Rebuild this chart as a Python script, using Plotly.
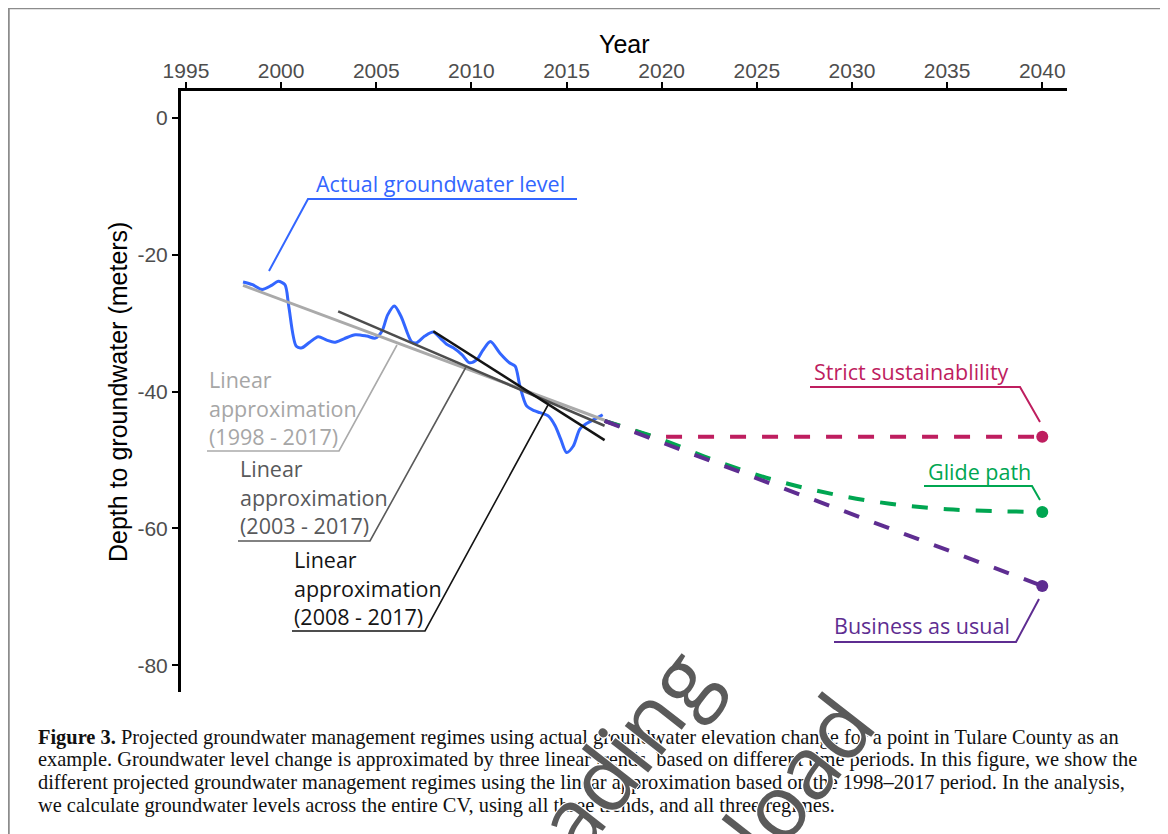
import plotly.graph_objects as go

# ---------------- data ----------------
actual_years = [1998.0, 1998.5, 1999.0, 1999.5, 1999.85, 2000.2, 2000.4, 2000.8, 2001.1, 2001.5,
                2001.95, 2002.4, 2002.8, 2003.3, 2003.9, 2004.5, 2004.95, 2005.3, 2005.6, 2005.95,
                2006.3, 2006.85, 2007.1, 2007.55, 2008.0, 2008.4, 2008.7, 2009.05, 2009.5, 2009.9,
                2010.3, 2010.6, 2011.0, 2011.5, 2012.0, 2012.3, 2012.55, 2012.9, 2013.3, 2013.6,
                2014.05, 2014.4, 2014.7, 2015.0, 2015.35, 2015.7, 2016.1, 2016.5, 2016.9]
actual_depth = [-24.0, -24.4, -25.1, -24.5, -23.9, -24.4, -27.5, -33.4, -33.6, -32.8,
                -32.0, -32.5, -32.8, -32.3, -31.7, -31.9, -32.2, -31.2, -28.8, -27.5,
                -29.0, -32.7, -32.9, -31.9, -31.3, -32.3, -33.1, -33.6, -34.6, -35.8,
                -35.3, -34.0, -32.7, -34.4, -35.8, -36.3, -39.2, -42.1, -42.8, -43.1,
                -43.6, -45.0, -47.0, -48.9, -48.0, -45.5, -44.6, -44.0, -43.4]

trend_1998_years = [1998, 2017]
trend_1998_depth = [-24.5, -44.2]
trend_2003_years = [2003, 2017]
trend_2003_depth = [-28.3, -45.0]
trend_2008_years = [2008, 2017]
trend_2008_depth = [-31.2, -47.1]

strict_years = [2017, 2019.5, 2040]
strict_depth = [-44.3, -46.6, -46.6]
glide_years = [2017, 2020, 2023, 2026, 2029, 2032, 2035, 2038, 2040]
glide_depth = [-44.3, -47.0, -50.3, -53.0, -55.0, -56.4, -57.2, -57.5, -57.6]
bau_years = [2017, 2040]
bau_depth = [-44.3, -68.4]

x_ticks = [1995, 2000, 2005, 2010, 2015, 2020, 2025, 2030, 2035, 2040]
y_ticks = [0, -20, -40, -60, -80]
y_tick_labels = ["0", "-20", "-40", "-60", "-80"]

caption_lines = [
    "<b>Figure 3.</b> Projected groundwater management regimes using actual groundwater elevation change for a point in Tulare County as an",
    "example. Groundwater level change is approximated by three linear trends, based on different time periods. In this figure, we show the",
    "different projected groundwater management regimes using the linear approximation based on the 1998\u20132017 period. In the analysis,",
    "we calculate groundwater levels across the entire CV, using all three trends, and all three regimes.",
]

# ---------------- colours ----------------
BLUE = "#3366FF"
LGRAY = "#AAAAAA"
DGRAY = "#4D4D4D"
BLACK = "#141414"
MAGENTA = "#BE1E5F"
GREEN = "#00A651"
PURPLE = "#5E2D91"

W, H = 1168, 834
OFF = 8  # page body margin
L, R, T, B = 181, 1067, 91, 692  # plot area on screen


def px(x):
    return (x - L) / (R - L)


def py(y):
    return (B - y) / (B - T)


fig = go.Figure()

fig.add_trace(go.Scatter(x=actual_years, y=actual_depth, mode="lines",
                         line=dict(color=BLUE, width=3, shape="spline", smoothing=0.8)))
fig.add_trace(go.Scatter(x=trend_1998_years, y=trend_1998_depth, mode="lines",
                         line=dict(color=LGRAY, width=3)))
fig.add_trace(go.Scatter(x=trend_2003_years, y=trend_2003_depth, mode="lines",
                         line=dict(color=DGRAY, width=2.5)))
fig.add_trace(go.Scatter(x=trend_2008_years, y=trend_2008_depth, mode="lines",
                         line=dict(color=BLACK, width=2.5)))

dash = "16px,16px"
fig.add_trace(go.Scatter(x=strict_years, y=strict_depth, mode="lines",
                         line=dict(color=MAGENTA, width=4, dash=dash)))
fig.add_trace(go.Scatter(x=glide_years, y=glide_depth, mode="lines",
                         line=dict(color=GREEN, width=4, dash=dash, shape="spline")))
fig.add_trace(go.Scatter(x=bau_years, y=bau_depth, mode="lines",
                         line=dict(color=PURPLE, width=4, dash=dash)))
for ys, col in [(strict_depth, MAGENTA), (glide_depth, GREEN), (bau_depth, PURPLE)]:
    fig.add_trace(go.Scatter(x=[2040], y=[ys[-1]], mode="markers",
                             marker=dict(color=col, size=12)))

LBL_FONT = "Open Sans"
LBL_SIZE = 21.5

annotations = []
shapes = []


def label(text, x, y, color, anchor="center"):
    annotations.append(dict(text=text, x=px(x), y=py(y), xref="paper", yref="paper",
                            xanchor=anchor, yanchor="middle", showarrow=False,
                            font=dict(family=LBL_FONT, size=LBL_SIZE, color=color)))


def leader(points, color, width=1.6):
    path = "M " + " L ".join(f"{px(a)},{py(b)}" for a, b in points)
    shapes.append(dict(type="path", path=path, xref="paper", yref="paper",
                       line=dict(color=color, width=width)))


# Actual groundwater level
label("Actual groundwater level", 440, 183, BLUE)
leader([(577, 199), (308, 199), (269, 271)], BLUE, 2)

# Linear approximations
for lines, x0, ys, col, ul, tip in [
    (["Linear", "approximation", "(1998 - 2017)"], 207, [379, 408, 437], "#A6A6A6", (207, 339, 451), (397, 345)),
    (["Linear", "approximation", "(2003 - 2017)"], 238, [468, 497, 525], "#58595B", (238, 370, 541), (466, 367)),
    (["Linear", "approximation", "(2008 - 2017)"], 292, [559, 588, 616], BLACK, (292, 425, 631), (548, 405)),
]:
    for t, y in zip(lines, ys):
        label(t, x0, y, col, anchor="left")
    lc = {"#A6A6A6": LGRAY, "#58595B": "#5A5A5A"}.get(col, BLACK)
    leader([(ul[0], ul[2]), (ul[1], ul[2]), tip], lc)

# Regimes
label("Strict sustainablility", 911, 371, MAGENTA)
leader([(810, 387), (1020, 387), (1040, 422)], MAGENTA, 2)
label("Glide path", 979, 471, GREEN)
leader([(924, 486), (1032, 486), (1040, 500)], GREEN, 2)
label("Business as usual", 922, 625, PURPLE)
leader([(834, 642), (1016, 642), (1039, 599)], PURPLE, 2)

# Axis titles
annotations.append(dict(text="Year", x=px(624), y=py(44), xref="paper", yref="paper",
                        showarrow=False, xanchor="center", yanchor="middle",
                        font=dict(family="Liberation Sans", size=25, color="black")))
annotations.append(dict(text="Depth to groundwater (meters)", x=px(118), y=py(392),
                        xref="paper", yref="paper", showarrow=False, textangle=-90,
                        xanchor="center", yanchor="middle",
                        font=dict(family="Liberation Sans", size=25, color="black")))

# Caption
for i, line in enumerate(caption_lines):
    annotations.append(dict(text=line, x=px(36), y=py(737 + i * 22.7), xref="paper", yref="paper",
                            showarrow=False, xanchor="left", yanchor="middle", align="left",
                            font=dict(family="Liberation Serif", size=20.4, color="#111111")))

# Watermark
for word, cx, cy in [("Loading", 593, 788), ("Download", 724, 870)]:
    annotations.append(dict(text=word, x=px(cx), y=py(cy), xref="paper", yref="paper",
                            showarrow=False, xanchor="center", yanchor="middle", textangle=-52,
                            font=dict(family="Open Sans", size=88, color="#5A5A5A",
                                      shadow="1px 1px 0 white, -1px -1px 0 white, 1px -1px 0 white, -1px 1px 0 white")))

# Frame
shapes.append(dict(type="rect", xref="paper", yref="paper", x0=px(8.5), x1=px(1165),
                   y0=py(8), y1=py(860), line=dict(color="#8C8C8C", width=2.5)))

fig.update_layout(
    width=W, height=H,
    margin=dict(l=L - OFF, r=W - (R - OFF), t=T - OFF, b=H - (B - OFF), pad=0),
    paper_bgcolor="white", plot_bgcolor="white",
    showlegend=False,
    annotations=annotations, shapes=shapes,
    xaxis=dict(side="top", range=[1994.74, 2041.3], tickvals=x_ticks,
               showline=True, linecolor="black", linewidth=3,
               ticks="outside", ticklen=6, tickwidth=2, tickcolor="black",
               ticklabelstandoff=-4,
               showgrid=False, zeroline=False, automargin=False,
               tickfont=dict(family="Liberation Sans", size=21, color="#4D4D4D")),
    yaxis=dict(range=[-83.9, 3.9], tickvals=y_ticks, ticktext=y_tick_labels,
               showline=True, linecolor="black", linewidth=3,
               ticks="outside", ticklen=6, tickwidth=2, tickcolor="black",
               showgrid=False, zeroline=False, automargin=False,
               tickfont=dict(family="Liberation Sans", size=21, color="#4D4D4D")),
)

fig.write_html("out.html")
